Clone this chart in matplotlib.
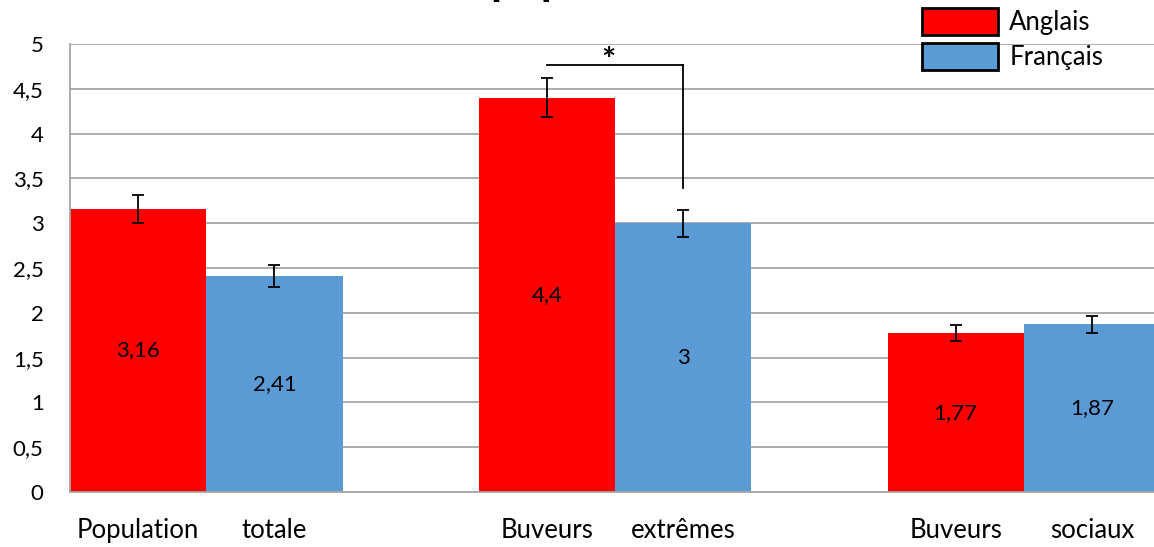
import matplotlib
matplotlib.use('Agg')
import matplotlib.pyplot as plt
import numpy as np

plt.rcParams['font.family'] = ['Lato', 'DejaVu Sans']

# ==================== 数据 ====================
groups = ['Population totale', 'Buveurs extrêmes', 'Buveurs sociaux']
bar_labels = ['Population', 'totale', 'Buveurs', 'extrêmes', 'Buveurs', 'sociaux']
anglais = [3.16, 4.4, 1.77]
francais = [2.41, 3.0, 1.87]
err_anglais = [0.155, 0.22, 0.09]
err_francais = [0.12, 0.15, 0.09]
series_names = ['Anglais', 'Français']
y_ticks = [0, 0.5, 1, 1.5, 2, 2.5, 3, 3.5, 4, 4.5, 5]

RED = '#ff0000'
BLUE = '#5b9bd5'
GRID = '#a6a6a6'


def fr(v):
    s = f'{v:g}'
    return s.replace('.', ',')


fig = plt.figure(figsize=(11.54, 5.47), dpi=100)
ax = fig.add_axes([70 / 1154, 55 / 547, 1090 / 1154, 448 / 547])

x_red = np.arange(len(groups)) * 3.0
x_blue = x_red + 1.0

ax.bar(x_red, anglais, width=1.0, color=RED, zorder=2, label=series_names[0])
ax.bar(x_blue, francais, width=1.0, color=BLUE, zorder=2, label=series_names[1])
ax.errorbar(x_red, anglais, yerr=err_anglais, fmt='none', ecolor='black',
            elinewidth=1.3, capsize=4.5, capthick=1.3, zorder=3)
ax.errorbar(x_blue, francais, yerr=err_francais, fmt='none', ecolor='black',
            elinewidth=1.3, capsize=4.5, capthick=1.3, zorder=3)

# valeurs dans les barres
for xs, vals in ((x_red, anglais), (x_blue, francais)):
    for xv, v in zip(xs, vals):
        ax.text(xv, v / 2, fr(v), ha='center', va='center', fontsize=16, zorder=4)

# significativité (buveurs extrêmes)
sig_y = 4.77
ax.plot([x_red[1], x_blue[1]], [sig_y, sig_y], color='black', lw=1.3, zorder=4)
ax.plot([x_blue[1], x_blue[1]], [sig_y, 3.39], color='black', lw=1.3, zorder=4)
ax.text((x_red[1] + x_blue[1]) / 2 - 0.05, 4.80, '*', ha='center', va='center',
        fontsize=24, fontweight='bold')

ax.set_xlim(-0.5, 7.5)
ax.set_ylim(0, 5)
ax.set_yticks(y_ticks)
ax.set_yticklabels([fr(t) for t in y_ticks], fontsize=16)
ax.set_xticks(np.sort(np.concatenate([x_red, x_blue])))
ax.set_xticklabels(bar_labels, fontsize=18.5)
ax.tick_params(axis='y', length=0, pad=19)
ax.tick_params(axis='x', length=0, pad=19)
ax.grid(axis='y', color=GRID, lw=1.3, zorder=0)
for s in ('top', 'right'):
    ax.spines[s].set_visible(False)
for s in ('left', 'bottom'):
    ax.spines[s].set_color(GRID)
    ax.spines[s].set_linewidth(1.3)

# légende
leg = fig.legend(loc='upper left', bbox_to_anchor=(922 / 1154, 1 - 8 / 547),
                 frameon=False, fontsize=18.5, handlelength=2.95, handleheight=1.25,
                 labelspacing=0.3, handletextpad=0.45, borderpad=0, borderaxespad=0)
for h in leg.legend_handles:
    h.set_edgecolor('black')
    h.set_linewidth(2)

# titre (coupé en haut de l'image)
fig.text(490 / 1154, 1 + 4.5 / 547, 'population', ha='left', va='baseline',
         fontsize=32, fontweight='bold')

fig.savefig('out.png', dpi=100)
